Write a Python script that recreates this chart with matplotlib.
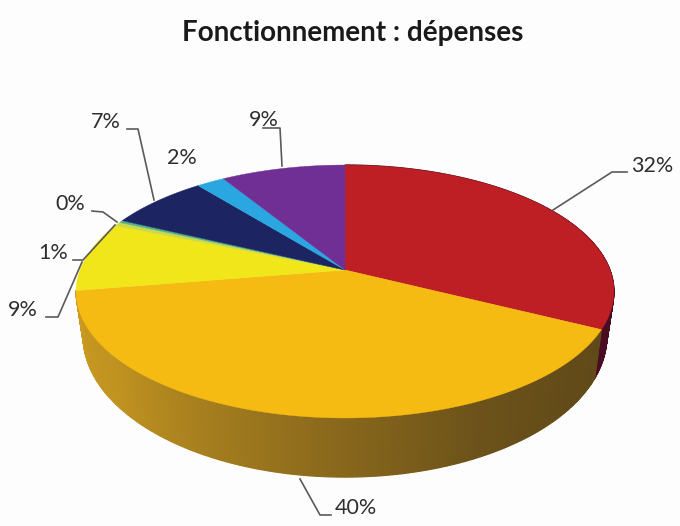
#!/usr/bin/env python3
# 3D-looking pie, "Fonctionnement : depenses"
import numpy as np
import matplotlib
matplotlib.use("Agg")
import matplotlib.pyplot as plt

plt.rcParams["font.family"] = ["Lato", "DejaVu Sans"]

# shares, clockwise from 12 o'clock (labels are the rounded values)
shares = [32.4, 40.0, 8.9, 0.5, 0.3, 7.1, 2.0, 8.8]
labels = ["32%", "40%", "9%", "1%", "0%", "7%", "2%", "9%"]
colors = ["#bd1f24", "#f6bb12", "#f0e61a", "#c9d94a", "#4fae8c",
          "#1c2461", "#2aa7e0", "#6f2f94"]

# label anchors and leader lines, in picture pixels
label_xy = [(631, 166), (335, 508), (8, 310), (38, 253),
            (55, 204), (91, 122), (167, 158), (249, 120)]
leaders = [
    [(553, 210), (612, 172), (627, 172)],
    [(300, 479), (320, 515), (331, 515)],
    [(46, 317), (58, 317), (82, 262)],
    [(73, 260), (83, 260), (115, 225)],
    [(92, 211), (103, 212), (117, 222)],
    [(127, 129), (138, 129), (154, 200)],
    None,
    [(263, 128), (280, 128), (282, 166)],
]

# projection of the unit disc (top and bottom face)
CX, CY, SX, SY, K = 345, 270, 265, 122.8, 0.17
CY2, SX2, SY2 = 312, 258, 137


def rim(theta, cy=CY, sx=SX, sy=SY):
    # theta in degrees clockwise from the top
    t = np.radians(theta)
    x, y = np.sin(t), np.cos(t)
    d = 1 + K * y
    return CX + sx * x / d, cy - sy * y / d


def wall_shade(theta):
    # light from the left: bright at 9 o'clock, dark at 3 o'clock
    return np.interp(theta, [90, 130, 155, 180, 230, 270],
                     [0.38, 0.40, 0.44, 0.55, 0.78, 0.84])


def shaded(col, f):
    r, g, b = matplotlib.colors.to_rgb(col)
    return (r * f, g * f, min(1.0, b * f + 0.07))


fig = plt.figure(figsize=(6.8, 5.26), dpi=100, facecolor="#fdfdfd")
ax = fig.add_axes([0, 0, 1, 1])
ax.set_xlim(0, 680)
ax.set_ylim(526, 0)
ax.axis("off")

edges = np.concatenate([[0], np.cumsum(shares)]) * 360 / sum(shares)

# side wall first, the top face hides the back of it
# only the first two slices have a visible wall
for i, col in enumerate(colors[:2]):
    th = np.arange(edges[i], edges[i + 1] + 0.5, 0.5)
    th[-1] = edges[i + 1]
    for a, b in zip(th[:-1], th[1:]):
        tx, ty = rim(np.array([a, b]))
        bx, by = rim(np.array([b, a]), CY2, SX2, SY2)
        c = shaded(col, wall_shade(0.5 * (a + b)))
        ax.fill(np.r_[tx, bx], np.r_[ty, by], color=c, lw=0.9, zorder=1)

# top face
for i, col in enumerate(colors):
    th = np.linspace(edges[i], edges[i + 1], 120)
    x, y = rim(th)
    ax.fill(np.r_[CX, x], np.r_[CY, y], color=col, lw=0.3, zorder=2)

for pts in leaders:
    if pts is None:
        continue
    xs, ys = zip(*pts)
    ax.plot(xs, ys, color="#5a5a5a", lw=1.2, zorder=3, solid_joinstyle="round")

for txt, (x, y) in zip(labels, label_xy):
    ax.text(x, y, txt, fontsize=15.5, color="#2e2e2e", ha="left", va="center", zorder=4)

ax.text(353, 33, "Fonctionnement : dépenses", fontsize=20, fontweight="bold",
        color="#1a1a1a", ha="center", va="center")

fig.savefig("out.png", dpi=100, facecolor=fig.get_facecolor())
